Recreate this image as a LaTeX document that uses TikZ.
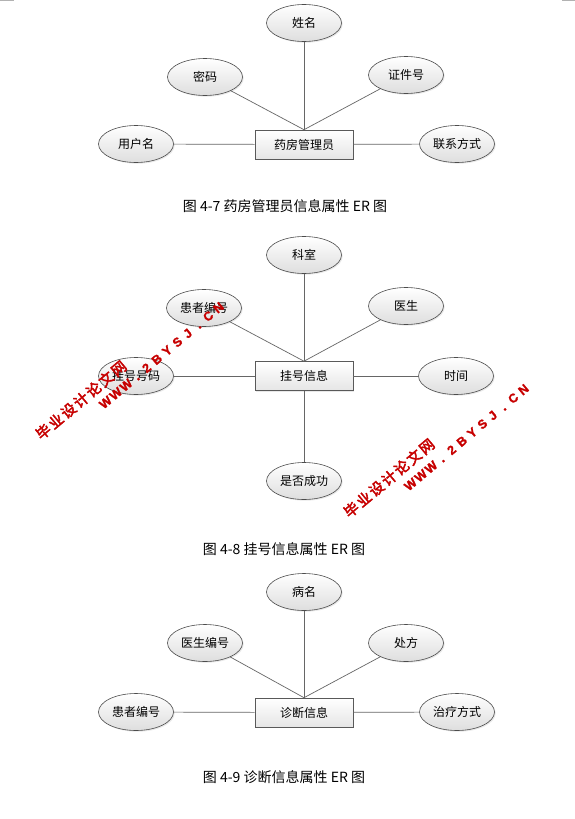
\documentclass[tikz,border=0pt]{standalone}
\usepackage{fontspec}
\newfontfamily\cjk{Noto Sans CJK SC}
\newfontfamily\wmcjk[FakeBold=3]{Noto Sans CJK SC}
\newfontfamily\wmlat[FakeBold=1.5]{Liberation Sans}
\usetikzlibrary{shapes.geometric,shadows}
\newcommand\wmbox[1]{\makebox[16.4pt]{#1}}
\newcommand\wlbox[1]{\makebox[13.4pt]{#1}}
\begin{document}
\begin{tikzpicture}[x=1pt,y=-1pt,
  attr/.style={ellipse, draw=black!70, line width=0.6pt, top color=white, bottom color=black!13,
    minimum width=75pt, minimum height=37pt, inner sep=0pt,
    font=\cjk\fontsize{12}{14}\selectfont,
    drop shadow={opacity=0.18, shadow xshift=1.2pt, shadow yshift=-1.2pt}},
  entity/.style={rectangle, draw=black!65, line width=0.6pt, top color=white, bottom color=black!10,
    minimum width=98pt, minimum height=29pt, inner sep=0pt,
    font=\cjk\fontsize{12}{14}\selectfont,
    drop shadow={opacity=0.18, shadow xshift=1.2pt, shadow yshift=-1.2pt}},
  conn/.style={draw=black!60, line width=0.7pt},
  captext/.style={font=\cjk\fontsize{14}{16}\selectfont, inner sep=0pt},
  wmc/.style={text=red!78!black, rotate=40, inner sep=0pt, font=\wmcjk\fontsize{14.5}{14.5}\selectfont},
  wml/.style={text=red!78!black, rotate=40, inner sep=0pt, font=\wmlat\bfseries\fontsize{12.5}{12.5}\selectfont}
]
\useasboundingbox (0,0) rectangle (575,819);
\fill[white] (0,0) rectangle (575,819);
\draw[black!30, line width=0.8pt] (0,0.6) -- (14,0.6);
\draw[black!30, line width=0.8pt] (562,0.6) -- (575,0.6);

% ---------- Figure 4-7 ----------
\node[entity] (e1) at (304,144.5) {药房管理员};
\node[attr] (a1) at (304,23) {姓名};
\node[attr] (b1) at (205,77) {密码};
\node[attr] (c1) at (406,75) {证件号};
\node[attr] (d1) at (136,144) {用户名};
\node[attr] (f1) at (457,144) {联系方式};
\draw[conn] (a1) -- (e1.north);
\draw[conn] (b1) -- (e1.north);
\draw[conn] (c1) -- (e1.north);
\draw[conn] (d1) -- (e1);
\draw[conn] (e1) -- (f1);
\node[captext] (t1) at (285,206) {图 4-7 药房管理员信息属性 ER 图};

% ---------- Figure 4-8 ----------
\node[entity] (e2) at (304,376) {挂号信息};
\node[attr] (a2) at (304,255) {科室};
\node[attr] (b2) at (204,308) {患者编号};
\node[attr] (c2) at (406,306) {医生};
\node[attr] (d2) at (136,376) {挂号号码};
\node[attr] (f2) at (456,376) {时间};
\node[attr] (g2) at (304,481) {是否成功};
\draw[conn] (a2) -- (e2.north);
\draw[conn] (b2) -- (e2.north);
\draw[conn] (c2) -- (e2.north);
\draw[conn] (d2) -- (e2);
\draw[conn] (e2) -- (f2);
\draw[conn] (e2) -- (g2);
\node[captext] (t2) at (284,549) {图 4-8 挂号信息属性 ER 图};

% ---------- Figure 4-9 ----------
\node[entity] (e3) at (304,712.5) {诊断信息};
\node[attr] (a3) at (304,592) {病名};
\node[attr] (b3) at (205,643) {医生编号};
\node[attr] (c3) at (406,643) {处方};
\node[attr] (d3) at (136,712) {患者编号};
\node[attr] (f3) at (457,712) {治疗方式};
\draw[conn] (a3) -- (e3.north);
\draw[conn] (b3) -- (e3.north);
\draw[conn] (c3) -- (e3.north);
\draw[conn] (d3) -- (e3);
\draw[conn] (e3) -- (f3);
\node[captext] (t3) at (284,777) {图 4-9 诊断信息属性 ER 图};

% ---------- watermarks ----------
\node[wmc] (w1a) at (81,400) {\wmbox{毕}\wmbox{业}\wmbox{设}\wmbox{计}\wmbox{论}\wmbox{文}\wmbox{网}};
\node[wml] (w1b) at (162,355) {\wlbox{W}\wlbox{W}\wlbox{W}\wlbox{.}\wlbox{2}\wlbox{B}\wlbox{Y}\wlbox{S}\wlbox{J}\wlbox{.}\wlbox{C}\wlbox{N}};
\node[wmc] (w2a) at (389,478) {\wmbox{毕}\wmbox{业}\wmbox{设}\wmbox{计}\wmbox{论}\wmbox{文}\wmbox{网}};
\node[wml] (w2b) at (467,437) {\wlbox{W}\wlbox{W}\wlbox{W}\wlbox{.}\wlbox{2}\wlbox{B}\wlbox{Y}\wlbox{S}\wlbox{J}\wlbox{.}\wlbox{C}\wlbox{N}};
\end{tikzpicture}
\end{document}
